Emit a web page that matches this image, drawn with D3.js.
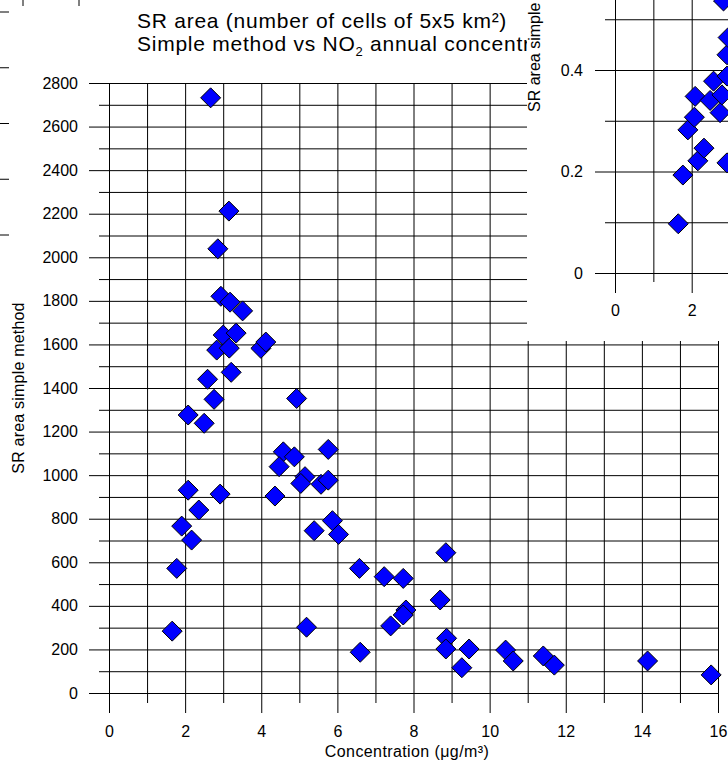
<!DOCTYPE html>
<html>
<head>
<meta charset="utf-8">
<script src="https://cdn.jsdelivr.net/npm/d3@7"></script>
<style>
  body { margin: 0; background: #fff; }
  svg text { font-family: "Liberation Sans", Arial, sans-serif; fill: #000; }
</style>
</head>
<body>
<svg id="chart" width="728" height="763"></svg>
<script>
// main chart: SR area (cells) vs NO2 concentration
const concentration = [2.67, 3.15, 2.86, 2.94, 3.18, 3.51, 3.0, 3.34, 2.83, 3.16, 3.99, 4.12,
  3.21, 2.59, 2.76, 2.08, 2.5, 4.93, 4.58, 4.87, 4.47, 5.76, 5.15, 5.04, 5.57, 5.76, 4.36,
  2.92, 2.08, 2.36, 1.91, 2.17, 1.78, 1.66, 5.39, 5.87, 6.03, 6.58, 7.23, 7.73, 8.85, 8.7,
  7.8, 7.73, 7.4, 5.19, 6.6, 8.87, 8.85, 9.46, 9.27, 10.42, 10.62, 11.41, 11.7, 14.15, 15.82];
const srArea = [2732, 2212, 2039, 1821, 1794, 1754, 1643, 1652, 1574, 1583, 1582, 1611,
  1472, 1440, 1348, 1276, 1238, 1352, 1107, 1084, 1039, 1118, 993, 962, 958, 977, 904,
  913, 931, 840, 766, 702, 572, 284, 745, 791, 728, 572, 534, 526, 644, 427,
  381, 358, 308, 302, 187, 251, 202, 202, 116, 197, 147, 170, 128, 147, 83];

// inset chart (partly outside the picture)
const insetConc = [1.65, 1.77, 2.16, 2.32, 1.9, 2.07, 2.09, 2.48, 2.74, 2.57, 2.79, 2.92, 2.92, 2.95, 2.83, 2.92];
const insetValue = [0.097, 0.193, 0.221, 0.246, 0.282, 0.307, 0.348, 0.34, 0.316, 0.378, 0.351, 0.388, 0.43, 0.464, 0.536, 0.217];

const xTicksMain = [0, 2, 4, 6, 8, 10, 12, 14, 16];
const yTicksMain = [0, 200, 400, 600, 800, 1000, 1200, 1400, 1600, 1800, 2000, 2200, 2400, 2600, 2800];
const xTicksInset = [0, 2];
const yTicksInset = [0, 0.2, 0.4];
const backTicks = [0, 1, 2, 3, 4];

const svg = d3.select("#chart");

// bits of the chart lying underneath
const backY = d3.scaleLinear().domain([0, 4]).range([235, 12]);
const backX = d3.scaleLinear().domain([0, 1]).range([23, 79]);
svg.append("g").selectAll("line").data(backTicks).join("line")
  .attr("x1", 0).attr("x2", 9)
  .attr("y1", d => backY(d)).attr("y2", d => backY(d))
  .attr("stroke", "#000");
svg.append("g").selectAll("line").data([0, 1]).join("line")
  .attr("x1", d => backX(d)).attr("x2", d => backX(d))
  .attr("y1", 0).attr("y2", 6)
  .attr("stroke", "#000");

svg.append("rect").attr("x", 10).attr("y", 6).attr("width", 718).attr("height", 757).attr("fill", "#fff");

const x = d3.scaleLinear().domain([0, 16]).range([109, 718]);
const y = d3.scaleLinear().domain([0, 2800]).range([693, 83]);

function diamond(sel, sx, sy, xs, ys) {
  sel.selectAll("path").data(xs).join("path")
    .attr("d", "M0,-10L10,0L0,10L-10,0Z")
    .attr("transform", (d, i) => `translate(${sx(d)},${sy(ys[i])})`)
    .attr("fill", "#0000ff")
    .attr("stroke", "#000")
    .attr("stroke-width", 1);
}

function cleanAxis(g) {
  g.select(".domain").remove();
  g.selectAll(".tick line").attr("stroke", "#000");
  g.selectAll("text").attr("font-size", 16).attr("font-family", "Liberation Sans, Arial, sans-serif");
}

// horizontal grid
const yMinor = d3.range(100, 2800, 200);
svg.append("g").attr("transform", "translate(89,0)")
  .call(d3.axisLeft(y).tickValues(yTicksMain).tickSize(-(718 - 89)).tickPadding(11).tickFormat(d3.format("d")))
  .call(cleanAxis);
svg.append("g").attr("transform", "translate(99,0)")
  .call(d3.axisLeft(y).tickValues(yMinor).tickSize(-(718 - 99)).tickFormat(""))
  .call(cleanAxis);

// vertical grid
const xMinor = d3.range(1, 16, 2);
svg.append("g").attr("transform", "translate(0,83)")
  .call(d3.axisBottom(x).tickValues(xTicksMain).tickSize(630).tickPadding(13).tickFormat(d3.format("d")))
  .call(cleanAxis);
svg.append("g").attr("transform", "translate(0,83)")
  .call(d3.axisBottom(x).tickValues(xMinor).tickSize(620).tickFormat(""))
  .call(cleanAxis);

svg.append("g").call(diamond, x, y, concentration, srArea);

svg.append("text")
  .attr("transform", "translate(24,388) rotate(-90)")
  .attr("text-anchor", "middle")
  .attr("font-size", 16)
  .attr("letter-spacing", 0.2)
  .text("SR area simple method");

svg.append("text")
  .attr("x", 407).attr("y", 757)
  .attr("text-anchor", "middle")
  .attr("font-size", 16)
  .attr("letter-spacing", 0.4)
  .text("Concentration (\u03bcg/m\u00b3)");

const title = svg.append("g");
title.append("text").attr("x", 137).attr("y", 28)
  .attr("font-size", 21).attr("letter-spacing", 0.75)
  .text("SR area (number of cells of 5x5 km\u00b2)");
const t2 = title.append("text").attr("x", 137).attr("y", 51)
  .attr("font-size", 21).attr("letter-spacing", 0.75);
t2.append("tspan").text("Simple method vs NO");
t2.append("tspan").attr("font-size", 13).attr("dy", 5).text("2");
t2.append("tspan").attr("dy", -5).text(" annual concentration");

// inset chart
svg.append("rect").attr("x", 527).attr("y", 0).attr("width", 201).attr("height", 341).attr("fill", "#fff");

const ix = d3.scaleLinear().domain([0, 4]).range([615, 768.4]);
const iy = d3.scaleLinear().domain([0, 0.4]).range([273, 70]);
const inset = svg.append("g");

inset.append("g").attr("transform", "translate(595,0)")
  .call(d3.axisLeft(iy).tickValues(yTicksInset).tickSize(-140).tickPadding(12)
    .tickFormat(d => d === 0 ? "0" : d3.format(".1f")(d)))
  .call(cleanAxis);
inset.append("g").attr("transform", "translate(605,0)")
  .call(d3.axisLeft(iy).tickValues([0.1, 0.3, 0.5]).tickSize(-130).tickFormat(""))
  .call(cleanAxis);
inset.append("g").attr("transform", "translate(0,-20)")
  .call(d3.axisBottom(ix).tickValues(xTicksInset).tickSize(313).tickPadding(12).tickFormat(d3.format("d")))
  .call(cleanAxis);
inset.append("g").attr("transform", "translate(0,-20)")
  .call(d3.axisBottom(ix).tickValues([1, 3]).tickSize(302).tickFormat(""))
  .call(cleanAxis);

inset.append("g").call(diamond, ix, iy, insetConc, insetValue);

inset.append("text")
  .attr("transform", "translate(540,112) rotate(-90)")
  .attr("font-size", 16)
  .text("SR area simple method");
</script>
</body>
</html>
